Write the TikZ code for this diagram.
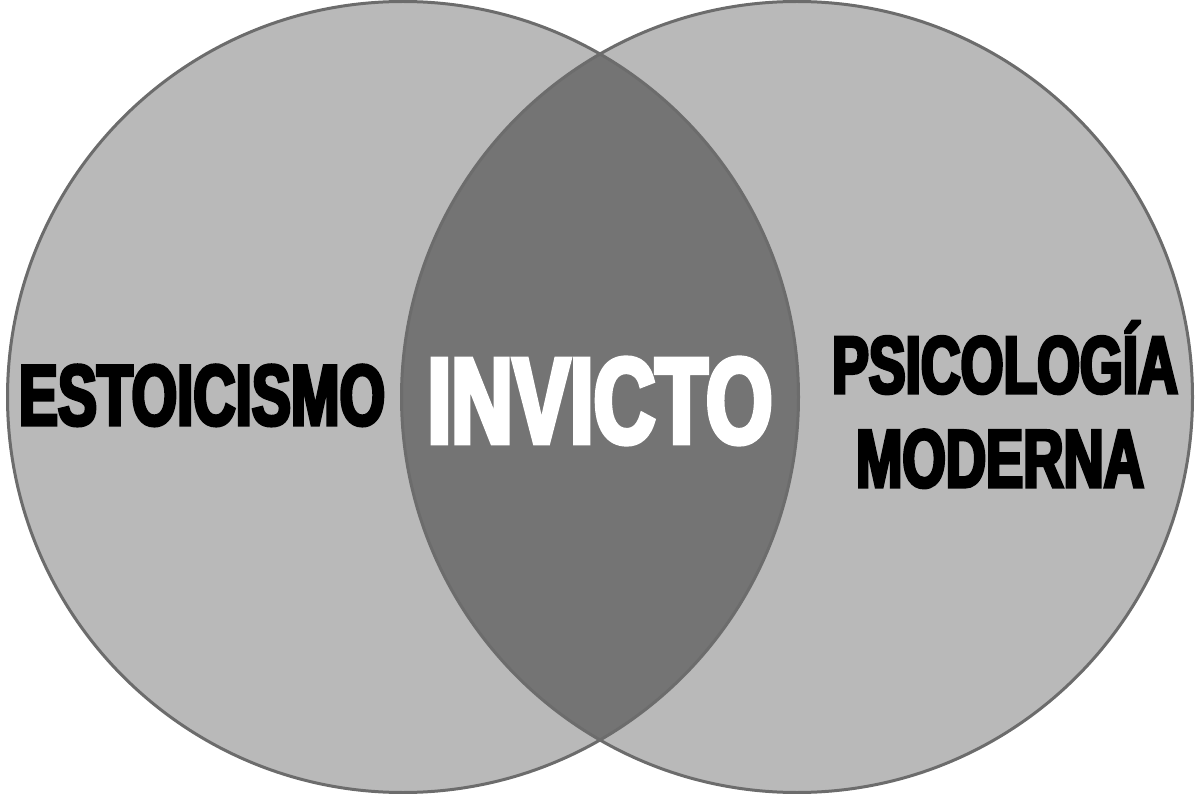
\documentclass[tikz,border=0pt]{standalone}
\usepackage{fontspec}
\newfontfamily\vennfont[FakeStretch=0.68,FakeBold=4]{Liberation Sans}
\definecolor{setgray}{HTML}{B9B9B9}
\definecolor{lensgray}{HTML}{747474}
\definecolor{rimgray}{HTML}{6C6C6C}

\begin{document}
\begin{tikzpicture}[x=1pt,y=-1pt]
\tikzstyle{rim}=[draw=rimgray, line width=3pt]
\tikzstyle{word}=[inner sep=0pt, anchor=base, font=\vennfont\bfseries]

\useasboundingbox (0,0) rectangle (1200,794);

% the two sets
\coordinate (L) at (403,397);
\coordinate (R) at (797,397);
\fill[setgray] (L) circle[radius=395.5pt];
\fill[setgray] (R) circle[radius=395.5pt];
\begin{scope}
\clip (L) circle[radius=395.5pt];
\fill[lensgray] (R) circle[radius=395.5pt];
\end{scope}
\draw[rim] (L) circle[radius=395.5pt];
\draw[rim] (R) circle[radius=395.5pt];

% labels
\node[word] (estoicismo) at (202,425) {\fontsize{86}{86}\selectfont ESTOICISMO};
\node[word, text=white, xscale=1.03] (invicto) at (600,443) {\fontsize{122}{122}\selectfont INVICTO};
\node[word] (psicologia) at (1005,393) {\fontsize{81}{81}\selectfont PSICOLOGÍA};
\node[word] (moderna) at (1000,487) {\fontsize{82}{82}\selectfont MODERNA};

\end{tikzpicture}
\end{document}
